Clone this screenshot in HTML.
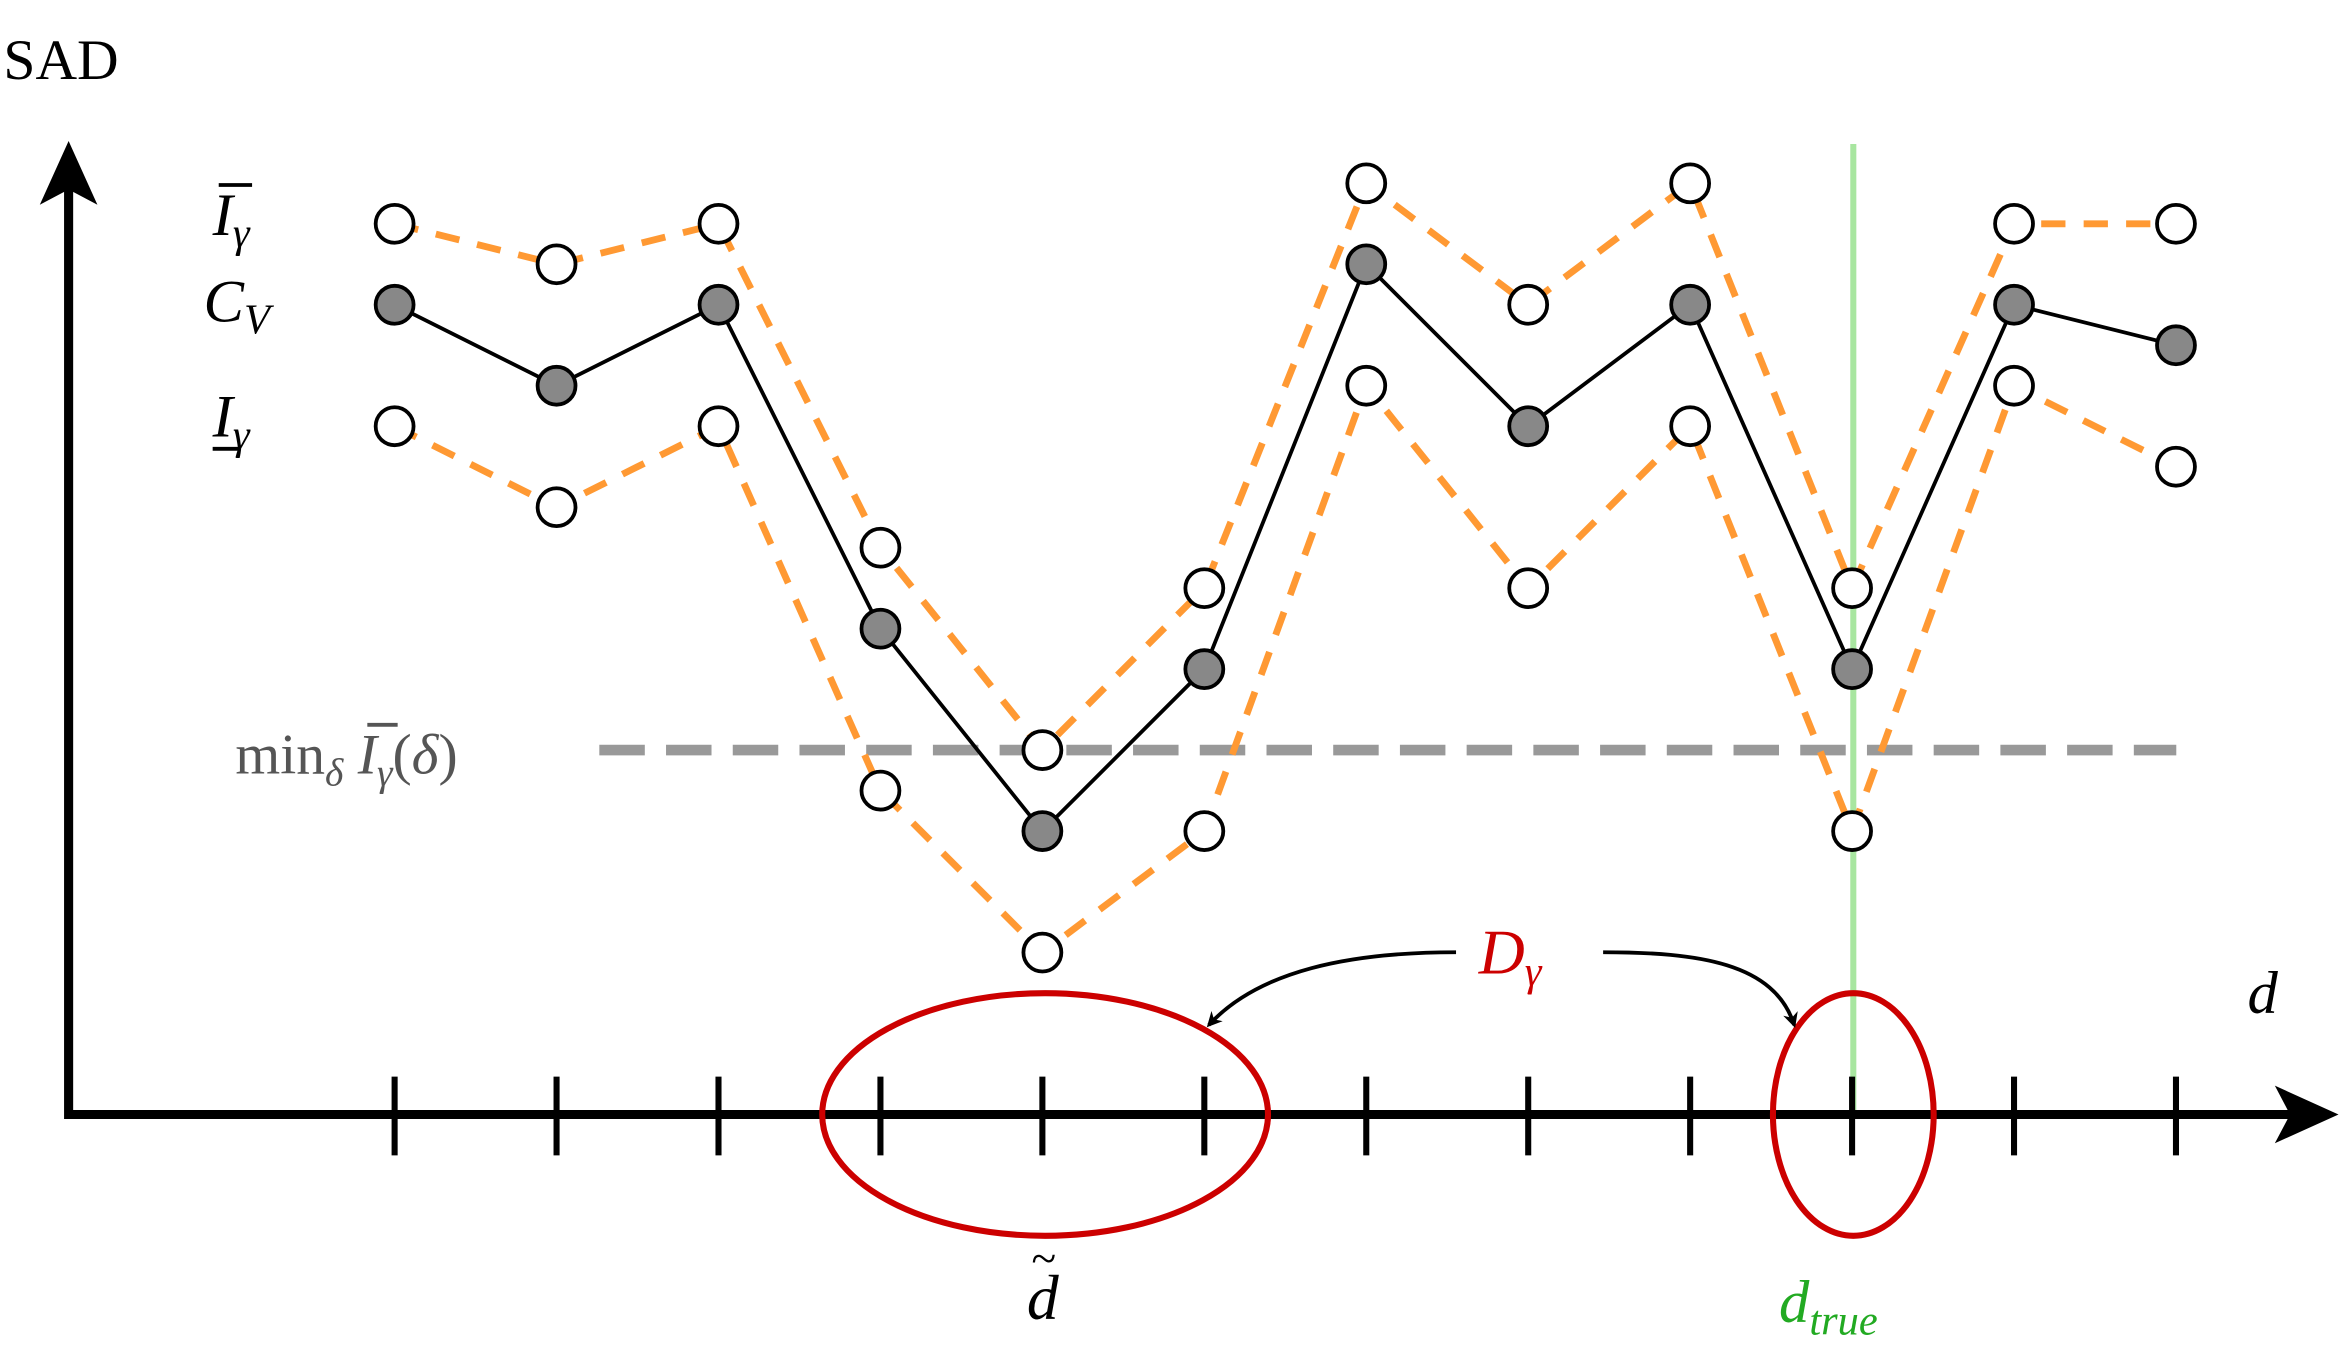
<!DOCTYPE html>
<html><head><meta charset="utf-8"><style>
html,body{margin:0;padding:0;background:#fff}
svg{display:block}
text{font-family:"Liberation Serif",serif}
</style></head><body>
<svg id="chart" width="2348" height="1348" viewBox="0 0 1548 889" xmlns="http://www.w3.org/2000/svg">
<defs>
<marker id="ah" markerWidth="10" markerHeight="10" refX="8" refY="5" orient="auto" markerUnits="userSpaceOnUse"><path d="M0,0 L10,5 L0,10 L3,5 Z" fill="#000"/></marker>
</defs>
<line x1="1222" y1="95" x2="1222" y2="735" stroke="#a8e6a0" stroke-width="4"/>
<g id="series"></g>
<line x1="45" y1="735" x2="1510" y2="735" stroke="#000" stroke-width="6"/>
<path d="M1542,735 L1500,716 L1510,735 L1500,754 Z" fill="#000"/>
<line x1="45" y1="738" x2="45" y2="125" stroke="#000" stroke-width="6"/>
<path d="M45,93 L26,135 L45,125 L64,135 Z" fill="#000"/>
<g id="ticks"></g>
<text x="2" y="52" font-size="38">SAD</text>
<text x="1482" y="668" font-size="40" font-style="italic">d</text>
<text x="140" y="155" font-size="40" font-style="italic">I<tspan font-size="28" dy="8">γ</tspan></text>
<line x1="144" y1="122" x2="166" y2="122" stroke="#000" stroke-width="2.5"/>
<text x="134" y="212" font-size="40" font-style="italic">C<tspan font-size="28" dy="8">V</tspan></text>
<text x="140" y="288" font-size="40" font-style="italic">I<tspan font-size="28" dy="8">γ</tspan></text>
<line x1="140" y1="296" x2="158" y2="296" stroke="#000" stroke-width="2.5"/>
<text x="155" y="510" font-size="38" fill="#555">min<tspan font-size="26" font-style="italic" dy="8">δ</tspan><tspan dy="-8" font-style="italic"> I</tspan><tspan font-size="26" font-style="italic" dy="8">γ</tspan><tspan dy="-8">(</tspan><tspan font-style="italic">δ</tspan>)</text>
<line x1="242" y1="478" x2="262" y2="478" stroke="#555" stroke-width="2.5"/>
<ellipse cx="689" cy="735" rx="147" ry="80" fill="none" stroke="#cc0000" stroke-width="4"/>
<ellipse cx="1222" cy="735" rx="53" ry="80" fill="none" stroke="#cc0000" stroke-width="4"/>
<text x="975" y="642" font-size="42" font-style="italic" fill="#cc0000">D<tspan font-size="28" dy="8">γ</tspan></text>
<path d="M960,628 C890,628 830,640 797,676" fill="none" stroke="#000" stroke-width="2.5" marker-end="url(#ah)"/>
<path d="M1057,628 C1120,628 1170,635 1183,676" fill="none" stroke="#000" stroke-width="2.5" marker-end="url(#ah)"/>
<text x="677" y="870" font-size="42" font-style="italic">d</text>
<text x="680" y="840" font-size="30">~</text>
<text x="1173" y="872" font-size="40" font-style="italic" fill="#22aa22">d<tspan font-size="28" dy="8">true</tspan></text>
</svg>
<script>
const categories=[1,2,3,4,5,6,7,8,9,10,11,12];
const costValues=[20,18,20,12,7,11,21,17,20,11,20,19];
const upperValues=[22,21,22,14,9,13,23,20,23,13,22,22];
const lowerValues=[17,15,17,8,4,7,18,13,17,7,18,16];
const minThreshold=[9];
const NS="http://www.w3.org/2000/svg";
function xs(i){return 260+(i-1)*106.8;}
function ys(v){return 735-v*26.7;}
function mk(tag,attrs,parent){const e=document.createElementNS(NS,tag);for(const k in attrs)e.setAttribute(k,attrs[k]);parent.appendChild(e);return e;}
const g=document.getElementById('series');
const tk=document.getElementById('ticks');
categories.forEach(c=>{
  const t=mk('line',{x1:xs(c),x2:xs(c),y1:710,y2:762,stroke:'#000','stroke-width':4},tk);
  
  
});
const thr=mk('line',{x1:395,x2:1435,y1:ys(minThreshold[0]),y2:ys(minThreshold[0]),stroke:'#999','stroke-width':7,'stroke-dasharray':'30 14'},g);


function line(vals,color,w,dash,name){
  const pts=vals.map((v,i)=>xs(categories[i])+','+ys(v)).join(' ');
  const p=mk('polyline',{points:pts,fill:'none',stroke:color,'stroke-width':w},g);
  if(dash)p.setAttribute('stroke-dasharray',dash);
  
  
}
function pts(vals,fill,name){
  vals.forEach((v,i)=>{
    const c=mk('circle',{cx:xs(categories[i]),cy:ys(v),r:12.5,fill:fill,stroke:'#000','stroke-width':2.5},g);
    
    
  });
}
line(upperValues,'#ff9933',4.5,'16 12','upper-bound-line');
line(lowerValues,'#ff9933',4.5,'16 12','lower-bound-line');
line(costValues,'#000',2.5,null,'cost-volume-line');
pts(upperValues,'#fff','upper-bound-point');
pts(lowerValues,'#fff','lower-bound-point');
pts(costValues,'#888','cost-volume-point');
</script>
</body></html>
